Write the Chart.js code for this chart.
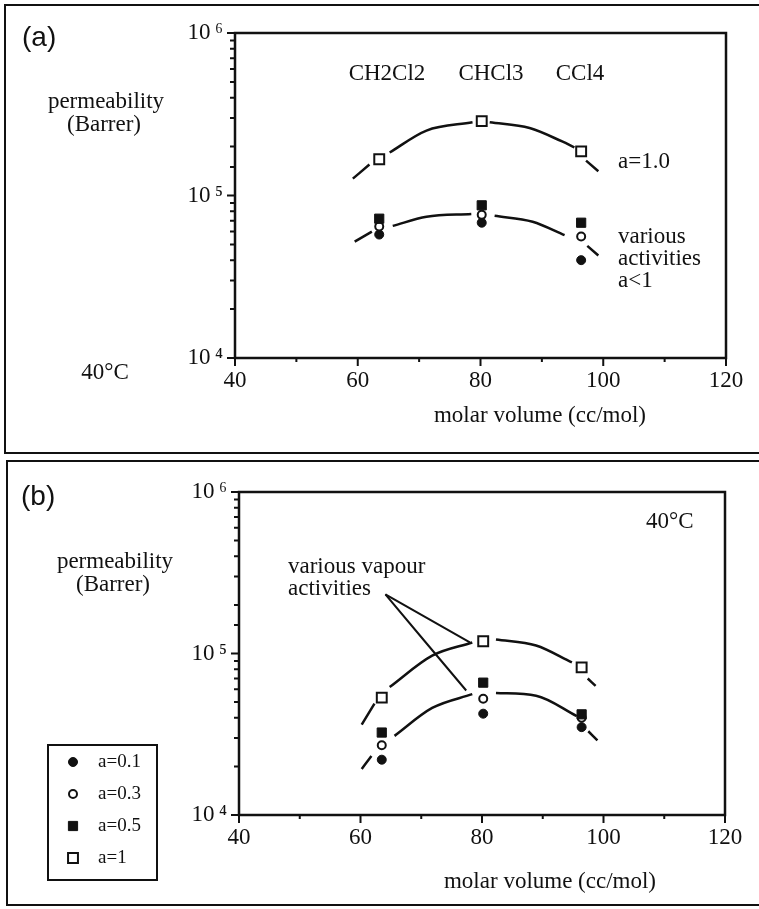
<!DOCTYPE html>
<html lang="en">
<head>
<meta charset="UTF-8">
<title>Permeability vs molar volume</title>
<script src="https://cdn.jsdelivr.net/npm/chart.js@4.4.1/dist/chart.umd.min.js"></script>
<style>
  body { margin: 0; background: #fff; width: 759px; height: 909px; overflow: hidden; position: relative; }
  .frame { position: absolute; border: 2px solid #111; border-right: none; }
  canvas { position: absolute; left: 0; }
</style>
</head>
<body>
<div class="frame" style="left:4px;top:4px;width:760px;height:446px"></div>
<div class="frame" style="left:6px;top:460px;width:760px;height:442px"></div>
<canvas id="chartA" width="759" height="455" style="top:0"></canvas>
<canvas id="chartB" width="759" height="454" style="top:455px"></canvas>
<script>
// molar volume of CH2Cl2, CHCl3, CCl4 (cc/mol)
var solvents = ['CH2Cl2', 'CHCl3', 'CCl4'];
var molarVolume = [63.5, 80.2, 96.4];
var activities = ['a=0.1', 'a=0.3', 'a=0.5', 'a=1'];

// panel (a) permeability (Barrer)
var permA_01 = [5.75e4, 6.8e4, 4.0e4];
var permA_03 = [6.45e4, 7.6e4, 5.6e4];
var permA_05 = [7.2e4, 8.7e4, 6.8e4];
var permA_10 = [1.67e5, 2.87e5, 1.87e5];

// panel (b) permeability (Barrer)
var permB_01 = [2.2e4, 4.24e4, 3.5e4];
var permB_03 = [2.7e4, 5.25e4, 4.0e4];
var permB_05 = [3.24e4, 6.6e4, 4.2e4];
var permB_10 = [5.33e4, 1.19e5, 8.2e4];

// hand drawn trend curves (null = gap round a marker)
var fitA_hi_x = [59.2, 61.9, null, 65.2, 71.2, 78.7, null, 81.5, 88.0, 93.3, 95.3, null, 97.2, 99.2];
var fitA_hi_y = [1.27e5, 1.55e5, null, 1.84e5, 2.51e5, 2.82e5, null, 2.82e5, 2.6e5, 2.15e5, 1.98e5, null, 1.64e5, 1.41e5];
var fitA_lo_x = [59.5, 62.3, null, 65.7, 71.2, 78.5, null, 82.3, 88.5, 93.7, null, 97.4, 99.2];
var fitA_lo_y = [5.2e4, 6.0e4, null, 6.5e4, 7.4e4, 7.7e4, null, 7.5e4, 6.9e4, 5.7e4, null, 4.9e4, 4.27e4];

var fitB_hi_x = [60.2, 62.3, null, 64.8, 71.8, 78.4, null, 82.3, 88.9, 94.8, null, 97.4, 98.7];
var fitB_hi_y = [3.63e4, 4.9e4, null, 6.2e4, 9.7e4, 1.17e5, null, 1.22e5, 1.12e5, 8.8e4, null, 7.0e4, 6.3e4];
var fitB_lo_x = [60.2, 61.8, null, 65.6, 71.8, 78.4, null, 82.3, 88.9, 95.6, null, 97.5, 99.0];
var fitB_lo_y = [1.93e4, 2.32e4, null, 3.09e4, 4.6e4, 5.6e4, null, 5.7e4, 5.48e4, 4.1e4, null, 3.3e4, 2.9e4];

// pointer lines of the "various vapour activities" label
var ptrHi_x = [64.1, 78.0], ptrHi_y = [2.32e5, 1.17e5];
var ptrLo_x = [64.1, 77.4], ptrLo_y = [2.32e5, 5.9e4];

var SERIF = "'Liberation Serif', 'Times New Roman', serif";
var SANS = "'Liberation Sans', Arial, sans-serif";
var INK = '#111';

var markStyles = {
    'a=0.1': { pointStyle: 'circle', radius: 4.5, bg: INK, bw: 1 },
    'a=0.3': { pointStyle: 'circle', radius: 4, bg: '#fff', bw: 2 },
    'a=0.5': { pointStyle: 'rect', radius: 6.5, bg: INK, bw: 1 },
    'a=1': { pointStyle: 'rect', radius: 7, bg: '#fff', bw: 2 }
};

function pts(xs, ys) {
    return xs.map(function (x, i) { return { x: x, y: ys[i] }; });
}

function markerSet(label, values) {
    var s = markStyles[label];
    return {
        label: label,
        data: pts(molarVolume, values),
        showLine: false,
        pointStyle: s.pointStyle,
        pointRadius: s.radius,
        pointBackgroundColor: s.bg,
        pointBorderColor: INK,
        pointBorderWidth: s.bw,
        order: 0
    };
}

function curveSet(xs, ys, width) {
    return {
        data: pts(xs, ys),
        showLine: true,
        spanGaps: false,
        borderColor: INK,
        borderWidth: width || 2.5,
        cubicInterpolationMode: 'monotone',
        pointRadius: 0,
        order: 1
    };
}

function drawMark(ctx, s, x, y) {
    ctx.fillStyle = s.bg;
    ctx.strokeStyle = INK;
    ctx.lineWidth = s.bw;
    ctx.beginPath();
    if (s.pointStyle === 'circle') {
        ctx.arc(x, y, s.radius, 0, Math.PI * 2);
    } else {
        var h = s.radius * Math.SQRT1_2;
        ctx.rect(x - h, y - h, 2 * h, 2 * h);
    }
    ctx.fill();
    ctx.stroke();
}

function isDecade(v) {
    var e = Math.log10(v);
    return Math.abs(e - Math.round(e)) < 1e-9;
}

var panelPlugin = {
    id: 'panel',
    afterDraw: function (chart, args, opts) {
        var ctx = chart.ctx, a = chart.chartArea;
        var xs = chart.scales.x, ys = chart.scales.y;
        ctx.save();
        // plot box
        ctx.strokeStyle = INK;
        ctx.lineWidth = 2.5;
        ctx.strokeRect(a.left, a.top, a.right - a.left, a.bottom - a.top);
        // tick marks
        ctx.lineWidth = 2;
        ctx.beginPath();
        ys.ticks.forEach(function (t) {
            var py = ys.getPixelForValue(t.value);
            var len = isDecade(t.value) ? 8 : 5;
            ctx.moveTo(a.left, py);
            ctx.lineTo(a.left - len, py);
        });
        xs.ticks.forEach(function (t) {
            var px = xs.getPixelForValue(t.value);
            var len = t.value % 20 === 0 ? 8 : 4;
            ctx.moveTo(px, a.bottom);
            ctx.lineTo(px, a.bottom + len);
        });
        ctx.stroke();

        // texts
        ctx.fillStyle = INK;
        ctx.textBaseline = 'middle';
        (opts.texts || []).forEach(function (t) {
            ctx.font = t.font || ('23px ' + SERIF);
            ctx.textAlign = t.align || 'left';
            ctx.fillText(t.s, t.x, t.y);
        });

        // legend box
        if (opts.legend) {
            var L = opts.legend;
            ctx.lineWidth = 2;
            ctx.strokeStyle = INK;
            ctx.strokeRect(L.x, L.y, L.w, L.h);
            activities.forEach(function (lab, i) {
                var cy = L.y + L.first + i * L.step;
                drawMark(ctx, markStyles[lab], L.x + 25, cy);
                ctx.fillStyle = INK;
                ctx.font = '19px ' + SERIF;
                ctx.textAlign = 'left';
                ctx.fillText(lab, L.x + 50, cy);
            });
        }
        ctx.restore();
    }
};

function makeOptions(pad, texts, legend) {
    return {
        responsive: false,
        animation: false,
        devicePixelRatio: 1,
        layout: { padding: pad },
        plugins: {
            legend: { display: false },
            tooltip: { enabled: false },
            panel: { texts: texts, legend: legend }
        },
        scales: {
            x: {
                type: 'linear',
                min: 40, max: 120,
                grid: { display: false, drawTicks: false },
                border: { display: false },
                afterFit: function (s) { s.height = 40; },
                ticks: {
                    stepSize: 10,
                    autoSkip: false,
                    maxRotation: 0,
                    padding: 9,
                    color: INK,
                    font: { family: SERIF, size: 23 },
                    callback: function (v) { return v % 20 === 0 ? String(v) : ''; }
                }
            },
            y: {
                type: 'logarithmic',
                min: 1e4, max: 1e6,
                grid: { display: false, drawTicks: false },
                border: { display: false },
                afterFit: function (s) { s.width = 60; },
                ticks: {
                    autoSkip: false,
                    padding: 12,
                    color: INK,
                    font: { family: SERIF, size: 23 },
                    callback: function (v) {
                        if (!isDecade(v)) return '';
                        var e = Math.round(Math.log10(v));
                        return '10\u2009' + '\u2070\u00b9\u00b2\u00b3\u2074\u2075\u2076'[e];
                    }
                }
            }
        }
    };
}

new Chart(document.getElementById('chartA'), {
    type: 'line',
    data: {
        datasets: [
            markerSet('a=0.5', permA_05),
            markerSet('a=0.3', permA_03),
            markerSet('a=0.1', permA_01),
            markerSet('a=1', permA_10),
            curveSet(fitA_hi_x, fitA_hi_y),
            curveSet(fitA_lo_x, fitA_lo_y)
        ]
    },
    options: makeOptions({ left: 175, top: 33, right: 33, bottom: 57 }, [
        { s: '(a)', x: 22, y: 38, font: '28px ' + SANS },
        { s: 'permeability', x: 106, y: 102, align: 'center' },
        { s: '(Barrer)', x: 104, y: 125, align: 'center' },
        { s: '40°C', x: 105, y: 373, align: 'center' },
        { s: solvents[0], x: 387, y: 74, align: 'center' },
        { s: solvents[1], x: 491, y: 74, align: 'center' },
        { s: solvents[2], x: 580, y: 74, align: 'center' },
        { s: 'a=1.0', x: 618, y: 162 },
        { s: 'various', x: 618, y: 237 },
        { s: 'activities', x: 618, y: 259 },
        { s: 'a<1', x: 618, y: 281 },
        { s: 'molar volume (cc/mol)', x: 540, y: 416, align: 'center' }
    ], null),
    plugins: [panelPlugin]
});

new Chart(document.getElementById('chartB'), {
    type: 'line',
    data: {
        datasets: [
            markerSet('a=0.5', permB_05),
            markerSet('a=0.3', permB_03),
            markerSet('a=0.1', permB_01),
            markerSet('a=1', permB_10),
            curveSet(fitB_hi_x, fitB_hi_y),
            curveSet(fitB_lo_x, fitB_lo_y),
            curveSet(ptrHi_x, ptrHi_y, 2),
            curveSet(ptrLo_x, ptrLo_y, 2)
        ]
    },
    options: makeOptions({ left: 179, top: 37, right: 34, bottom: 54 }, [
        { s: '(b)', x: 21, y: 42, font: '28px ' + SANS },
        { s: 'permeability', x: 115, y: 107, align: 'center' },
        { s: '(Barrer)', x: 113, y: 130, align: 'center' },
        { s: '40°C', x: 646, y: 67 },
        { s: 'various vapour', x: 288, y: 112 },
        { s: 'activities', x: 288, y: 134 },
        { s: 'molar volume (cc/mol)', x: 550, y: 427, align: 'center' }
    ], { x: 48, y: 290, w: 109, h: 135, first: 17, step: 32 }),
    plugins: [panelPlugin]
});
</script>
</body>
</html>
